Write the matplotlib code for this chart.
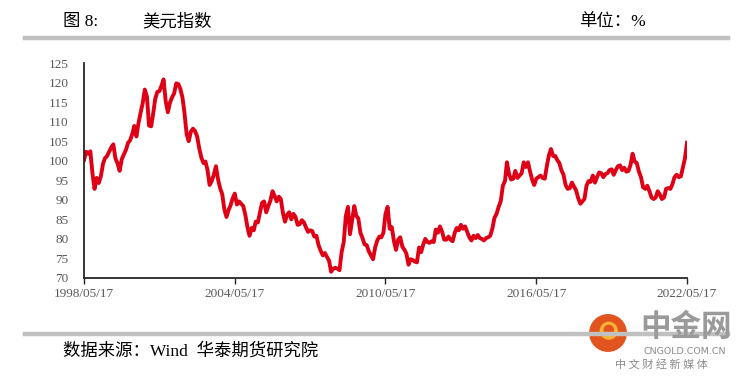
import numpy as np
import pandas as pd
import matplotlib
matplotlib.use("Agg")
import matplotlib.pyplot as plt
from matplotlib.patches import Circle

# 美元指数, monthly readings (17th of each month), 1998/05 - 2022/05
v1998 = [100.2, 102.3, 101.8, 102.4, 96.8, 92.8, 95.6, 94.3]
v1999 = [96.0, 99.2, 100.6, 101.2, 102.3, 103.4, 104.2, 100.6, 99.3, 97.4, 100.4, 101.6]
v2000 = [102.8, 104.6, 105.2, 106.8, 108.9, 106.2, 109.6, 112.3, 114.8, 118.2, 116.4, 109.0]
v2001 = [108.8, 112.2, 115.8, 117.6, 117.8, 119.2, 120.8, 115.2, 112.4, 114.8, 116.2, 117.2]
v2002 = [119.8, 119.6, 118.4, 116.2, 112.2, 106.8, 105.0, 107.4, 108.2, 107.6, 106.2, 103.2]
v2003 = [100.8, 99.4, 99.8, 97.6, 93.8, 94.8, 96.4, 98.6, 95.2, 93.0, 91.4, 87.6]
v2004 = [85.6, 87.4, 88.6, 90.4, 91.6, 88.8, 89.6, 89.0, 88.4, 86.2, 83.0, 80.8]
v2005 = [82.8, 82.2, 84.4, 84.2, 86.6, 89.2, 89.6, 86.8, 88.4, 89.8, 92.2, 91.0]
v2006 = [89.6, 90.8, 90.2, 86.6, 84.4, 86.2, 86.8, 85.0, 86.4, 85.6, 83.6, 83.8]
v2007 = [84.8, 84.2, 83.0, 81.8, 82.2, 82.0, 80.6, 80.8, 78.4, 77.0, 75.8, 76.4]
v2008 = [75.4, 74.4, 71.6, 72.4, 72.6, 72.4, 72.0, 76.6, 79.2, 85.8, 88.2, 81.2]
v2009 = [84.8, 88.4, 86.0, 85.2, 81.6, 80.2, 78.6, 78.4, 76.8, 75.8, 74.8, 77.8]
v2010 = [79.6, 80.6, 80.4, 81.6, 86.4, 88.2, 82.6, 83.0, 79.4, 77.2, 79.8, 80.4]
v2011 = [78.0, 77.2, 76.2, 73.4, 74.8, 74.6, 74.2, 74.0, 77.8, 76.6, 78.6, 80.0]
v2012 = [79.2, 79.0, 79.4, 79.2, 82.4, 81.6, 83.2, 81.8, 79.8, 79.8, 80.6, 79.8]
v2013 = [79.4, 81.6, 82.8, 82.2, 83.6, 82.6, 83.2, 81.8, 80.4, 79.6, 80.8, 80.2]
v2014 = [81.0, 80.2, 80.0, 79.6, 80.2, 80.4, 80.8, 82.6, 85.4, 86.4, 88.2, 89.6]
v2015 = [93.6, 94.8, 99.6, 96.6, 95.2, 95.4, 97.4, 95.6, 96.2, 96.8, 99.6, 98.4]
v2016 = [99.6, 97.2, 95.2, 93.8, 95.4, 95.8, 96.2, 95.6, 95.4, 98.6, 101.4, 103.0]
v2017 = [101.2, 101.2, 100.2, 99.4, 97.6, 96.4, 93.8, 92.8, 93.0, 94.4, 93.4, 92.4]
v2018 = [90.4, 89.0, 89.6, 90.2, 93.6, 94.8, 94.6, 96.2, 94.4, 95.8, 97.0, 96.8]
v2019 = [95.8, 96.6, 96.8, 97.6, 97.8, 96.4, 97.6, 98.6, 98.8, 97.6, 98.2, 97.2]
v2020 = [97.4, 99.0, 101.8, 99.8, 99.4, 97.2, 95.8, 93.2, 92.8, 93.6, 92.2, 90.6]
v2021 = [90.2, 90.6, 92.2, 91.4, 90.2, 90.6, 92.8, 93.0, 92.8, 94.0, 95.8, 96.4]
v2022 = [95.8, 96.0, 98.2, 100.6, 104.6]

dxy = (v1998 + v1999 + v2000 + v2001 + v2002 + v2003 + v2004 + v2005 + v2006
       + v2007 + v2008 + v2009 + v2010 + v2011 + v2012 + v2013 + v2014 + v2015
       + v2016 + v2017 + v2018 + v2019 + v2020 + v2021 + v2022)
dates = pd.date_range("1998-05-17", periods=len(dxy), freq=pd.DateOffset(months=1))

tick_labels = ["1998/05/17", "2004/05/17", "2010/05/17", "2016/05/17", "2022/05/17"]
y_ticks = list(range(70, 126, 5))

fam = ["Liberation Serif", "Noto Sans CJK SC"]
W, H = 746, 383

fig = plt.figure(figsize=(W / 100, H / 100), dpi=100)
ax = fig.add_axes([84 / W, 1 - 278 / H, (687 - 84) / W, (278 - 63) / H])

ax.plot(dates, dxy, color="#E00016", linewidth=2.8, solid_joinstyle="round")

tick_dates = pd.to_datetime(tick_labels, format="%Y/%m/%d")
ax.set_xlim(tick_dates[0], tick_dates[-1])
ax.set_ylim(70, 125)
ax.set_xticks(tick_dates)
ax.set_xticklabels(tick_labels)
ax.set_yticks(y_ticks)

for s in ["top", "right"]:
    ax.spines[s].set_visible(False)
for s in ["left", "bottom"]:
    ax.spines[s].set_color("#262626")
    ax.spines[s].set_linewidth(1.3)

ax.tick_params(axis="y", length=0, pad=11, labelsize=9.5, labelcolor="#595959")
ax.tick_params(axis="x", length=4, width=1, color="#262626", pad=3,
               labelsize=9.5, labelcolor="#595959")
for lab in ax.get_xticklabels() + ax.get_yticklabels():
    lab.set_family("Liberation Serif")

# title block
fig.add_artist(plt.Line2D([25 / W, 728 / W], [1 - 38 / H, 1 - 38 / H],
                          color="#C0C0C0", linewidth=3.2))
fig.text(63 / W, 1 - 22 / H, "图 8:", family=fam, fontsize=12.5, va="center")
fig.text(142 / W, 1 - 22 / H, "美元指数", family=fam, fontsize=12.5, va="center")
fig.text(579 / W, 1 - 22 / H, "单位：%", family=fam, fontsize=12.5, va="center")

# source block
fig.add_artist(plt.Line2D([25 / W, 728 / W], [1 - 334 / H, 1 - 334 / H],
                          color="#C0C0C0", linewidth=3.2))
fig.text(63 / W, 1 - 351 / H, "数据来源：Wind  华泰期货研究院", family=fam,
         fontsize=12.5, va="center")

# watermark
logo = fig.add_axes([589 / W, 1 - 352 / H, 38 / W, 38 / H])
logo.set_xlim(0, 1)
logo.set_ylim(0, 1)
logo.set_aspect("equal")
logo.axis("off")
logo.add_patch(Circle((0.5, 0.5), 0.48, color="#E2541F"))
logo.add_patch(Circle((0.52, 0.56), 0.22, color="#F6B431"))
logo.add_patch(Circle((0.52, 0.58), 0.12, color="#E2541F"))
fig.text(686 / W, 1 - 327 / H, "中金网", family="Noto Sans CJK SC", fontsize=22,
         fontweight="bold", color="#9A9A9A", ha="center", va="center")
fig.text(685 / W, 1 - 352 / H, "CNGOLD.COM.CN", family="DejaVu Sans", fontsize=6.8,
         color="#8C8C8C", ha="center", va="center")
fig.text(661 / W, 1 - 364 / H, "中 文 财 经 新 媒 体", family="Noto Sans CJK SC",
         fontsize=8, color="#8C8C8C", ha="center", va="center")

fig.savefig("out.png", dpi=100, facecolor="white")
